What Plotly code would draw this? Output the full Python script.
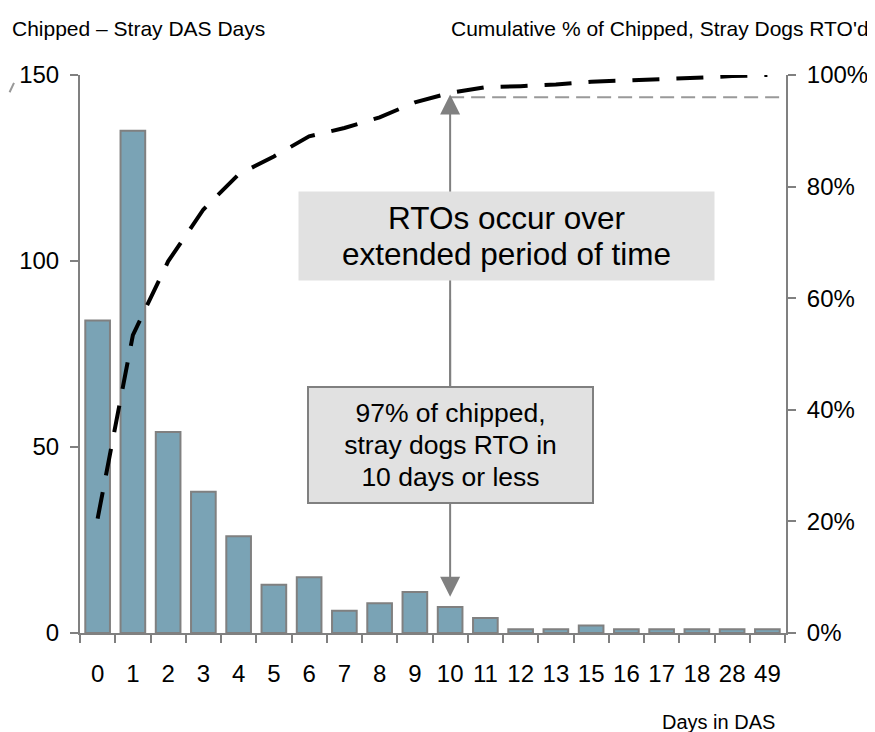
import plotly.graph_objects as go

days = ["0", "1", "2", "3", "4", "5", "6", "7", "8", "9", "10", "11", "12", "13", "15", "16", "17", "18", "28", "49"]
dogs = [84, 135, 54, 38, 26, 13, 15, 6, 8, 11, 7, 4, 1, 1, 2, 1, 1, 1, 1, 1]
cum_pct = [20.5, 53.4, 66.6, 75.9, 82.2, 85.4, 89.0, 90.5, 92.4, 95.1, 96.8, 97.8, 98.0, 98.3, 98.8, 99.0, 99.3, 99.5, 99.8, 100.0]
left_ticks = [0, 50, 100, 150]
right_ticks = [0, 20, 40, 60, 80, 100]
highlight_pct = 96
arrow_tip_pct = 6.5

FONT = "Arial, Liberation Sans, sans-serif"
GRAY = "#808080"

fig = go.Figure()
fig.add_trace(go.Bar(
    x=days, y=dogs, marker=dict(color="#7aa3b5", line=dict(color=GRAY, width=2)),
    yaxis="y", showlegend=False,
))
fig.add_trace(go.Scatter(
    x=days, y=[v / 100 for v in cum_pct], yaxis="y2", mode="lines",
    line=dict(color="black", width=4, dash="27px,17px"), showlegend=False,
))

fig.update_layout(
    width=867, height=724,
    margin=dict(l=72, r=89, t=67, b=99),
    paper_bgcolor="white", plot_bgcolor="white",
    font=dict(family=FONT, color="black"),
    bargap=0.3,
    xaxis=dict(
        type="category", showgrid=False, showline=True, linecolor=GRAY, linewidth=2,
        ticks="outside", tickson="boundaries", ticklen=8, tickcolor=GRAY, tickwidth=2,
        tickfont=dict(size=24), zeroline=False, tickangle=0, automargin=False,
        ticklabelstandoff=18,
    ),
    yaxis=dict(
        range=[0, 150], tickvals=left_ticks, showgrid=False, showline=True,
        linecolor=GRAY, linewidth=2, ticks="outside", ticklen=8, tickcolor=GRAY,
        tickwidth=2, tickfont=dict(size=24), zeroline=False, ticklabelstandoff=6,
        automargin=False,
    ),
    yaxis2=dict(
        range=[0, 1], tickvals=[v / 100 for v in right_ticks],
        ticktext=[f"{v}%" for v in right_ticks], overlaying="y", side="right",
        showgrid=False, showline=True, linecolor=GRAY, linewidth=2, ticks="outside",
        ticklen=8, tickcolor=GRAY, tickwidth=2, tickfont=dict(size=24), zeroline=False,
        ticklabelstandoff=6, automargin=False,
    ),
)

shapes = [
    dict(type="line", xref="x", yref="y2", x0=10, x1=19.5, y0=highlight_pct / 100, y1=highlight_pct / 100,
         line=dict(color="#999999", width=2, dash="14px,7px")),
    dict(type="line", xref="paper", yref="paper", x0=-0.125, y0=0.901, x1=-0.0935, y1=0.986,
         line=dict(color="#999999", width=2, dash="14px,7px")),
]
fig.update_layout(shapes=shapes)


def sized(lines, px):
    return "<br>".join(f'<span style="font-size:{px}px">{ln}</span>' for ln in lines)


ann = [
    dict(x=10, y=highlight_pct / 100 + 0.005, xref="x", yref="y2", ax=10, ay=0.4, axref="x", ayref="y2",
         text="", showarrow=True, arrowhead=2, arrowsize=2.0, arrowwidth=2, arrowcolor=GRAY),
    dict(x=10, y=arrow_tip_pct / 100, xref="x", yref="y2", ax=10, ay=0.6, axref="x", ayref="y2",
         text="", showarrow=True, arrowhead=2, arrowsize=2.0, arrowwidth=2, arrowcolor=GRAY),
    dict(x=0.604, y=0.7115, xref="paper", yref="paper",
         text=sized(["RTOs occur over", "extended period of time"], 31.5),
         showarrow=False, font=dict(size=27.5, color="black"), bgcolor="#e1e1e1", width=415, height=88,
         borderpad=0, xanchor="center", yanchor="middle"),
    dict(x=0.5245, y=0.337, xref="paper", yref="paper",
         text=sized(["97% of chipped,", "stray dogs RTO in", "10 days or less"], 26.5),
         showarrow=False, font=dict(size=24.4, color="black"), bgcolor="#e1e1e1", bordercolor=GRAY,
         borderwidth=2, width=283, height=114, borderpad=0, xanchor="center", yanchor="middle"),
    dict(x=-0.099, y=1.084, xref="paper", yref="paper", text="Chipped – Stray DAS Days",
         showarrow=False, xanchor="left", yanchor="middle", font=dict(size=21)),
    dict(x=1.12, y=1.084, xref="paper", yref="paper", text="Cumulative % of Chipped, Stray Dogs RTO'd",
         showarrow=False, xanchor="right", yanchor="middle", font=dict(size=21)),
    dict(x=0.904, y=-0.1595, xref="paper", yref="paper", text="Days in DAS",
         showarrow=False, xanchor="center", yanchor="middle", font=dict(size=20)),
]
fig.update_layout(annotations=ann)

fig.write_html("out.html")
